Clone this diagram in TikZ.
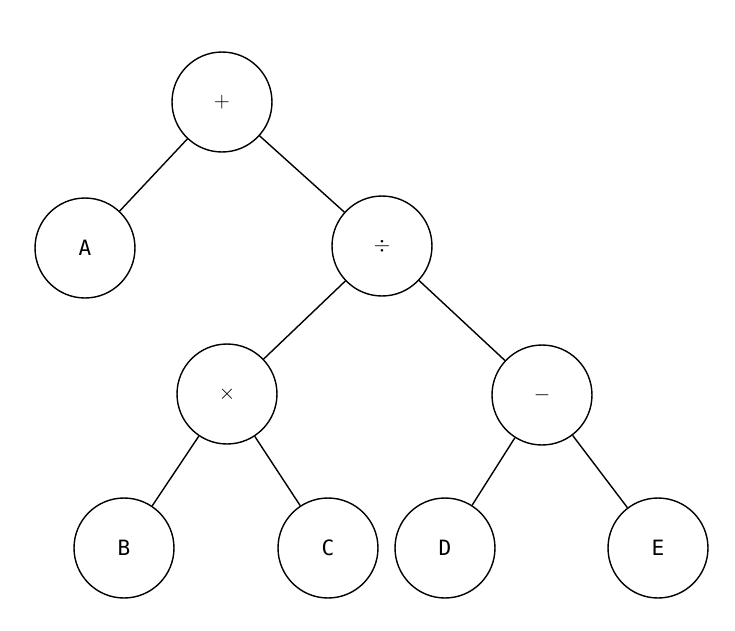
\documentclass[tikz,border=0pt]{standalone}
\usepackage{amsmath,amssymb}
\usepackage{fontspec}
\setmainfont{DejaVu Sans Mono}
\usepackage{tikz}
\begin{document}
\begin{tikzpicture}
		[
			x=0.02cm, y=-0.02cm,
			node/.style = {circle, align=center, draw=black, fill=none, thick, minimum size=2cm, inner sep=0pt, font=\large},
		]
		\useasboundingbox (0,0) rectangle (735,630);

		% operators
		\node[node] (plus) 	at ( 222, 102 ) {$+$};
		\node[node] (div) 	at ( 382, 246 ) {$\div$};
		\node[node] (times) at ( 227, 394 ) {$\times$};
		\node[node] (minus) at ( 542, 395 ) {$-$};

		% operands
		\node[node] (a) 	at (  85, 248 ) {A};
		\node[node] (b) 	at ( 124, 548 ) {B};
		\node[node] (c) 	at ( 328, 548 ) {C};
		\node[node] (d) 	at ( 445, 548 ) {D};
		\node[node] (e) 	at ( 658, 548 ) {E};

		\foreach \from/\to in {plus/a,plus/div,div/times,div/minus,times/b,times/c,minus/d,minus/e}
		\draw[thick] (\from) -- (\to);

		\end{tikzpicture}
\end{document}
